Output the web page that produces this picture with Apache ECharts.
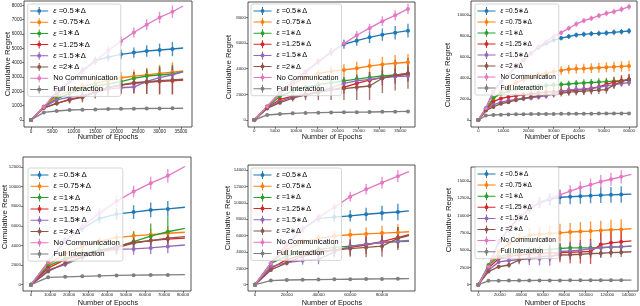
<!DOCTYPE html>
<html><head><meta charset="utf-8">
<script src="https://cdn.jsdelivr.net/npm/echarts@6/dist/echarts.min.js"></script>
<style>html,body{margin:0;padding:0;background:#fff}#c{width:640px;height:306px}</style>
</head><body><div id="c"></div><script>
// ---------- names ----------
const NAMES = ['ε =0.5∗Δ','ε =0.75∗Δ','ε =1∗Δ','ε =1.25∗Δ','ε =1.5∗Δ','ε =2∗Δ','No Communication','Full Interaction'];

// ---------- chart 1 (top-left) ----------
const x1 = [0,3000,6000,9000,12000,15000,18000,21000,24000,27000,30000,33000,35500];
const r1_05  = [0,900,1800,2700,3450,4150,4380,4580,4700,4810,4880,4950,5020];
const r1_075 = [0,950,1650,2050,2350,2550,2750,2950,3050,3150,3250,3330,3420];
const r1_1   = [0,930,1470,1860,2140,2370,2510,2670,2900,3070,3140,3210,3370];
const r1_125 = [0,850,1160,1440,1630,1980,2280,2440,2560,2630,2700,2740,2790];
const r1_15  = [0,900,1400,1600,1700,1900,2150,2250,2300,2700,2950,3150,3350];
const r1_2   = [0,850,1160,1400,1580,1950,2250,2440,2600,2670,2740,2790,2840];
const r1_nc  = [0,900,2000,2700,3400,4100,4850,5500,6100,6650,7150,7550,7950];
const r1_fi  = [0,530,630,700,720,740,770,780,790,800,810,815,820];
const e1_05  = [0,60,120,180,220,260,300,330,360,400,450,500,0];
const e1_075 = [0,60,120,180,250,300,350,400,450,500,600,700,0];
const e1_1   = [0,60,150,200,250,300,350,400,450,500,600,650,0];
const e1_125 = [0,60,150,250,300,400,500,600,700,800,900,950,0];
const e1_15  = [0,60,120,150,200,250,300,350,350,350,400,400,0];
const e1_2   = [0,60,150,250,350,450,550,650,750,850,950,1000,0];
const e1_nc  = [0,60,120,180,220,260,300,320,350,370,400,430,0];
const e1_fi  = [0,30,40,50,60,60,70,70,80,80,90,90,0];
const xt1 = [0,5000,10000,15000,20000,25000,30000,35000];
const yt1 = [0,1000,2000,3000,4000,5000,6000,7000,8000];

// ---------- chart 2 (top-middle) ----------
const x2 = [0,3070,6140,9210,12280,15350,18420,21490,24560,27630,30700,33770,36840];
const r2_05  = [0,1050,2100,2950,3750,4550,5300,5900,6180,6440,6650,6800,6960];
const r2_075 = [0,1050,2050,2800,3300,3600,3800,3900,4030,4200,4330,4420,4500];
const r2_1   = [0,1000,1850,2250,2550,2750,2900,3050,3190,3320,3430,3510,3580];
const r2_125 = [0,950,1600,1850,2000,2200,2350,2550,2850,3100,3300,3430,3580];
const r2_15  = [0,950,1450,1800,1950,2200,2500,2850,3050,3170,3300,3380,3430];
const r2_2   = [0,900,1350,1700,1950,2150,2350,2450,2550,2650,3250,3500,3640];
const r2_nc  = [0,1050,2100,2950,3750,4550,5300,5950,6600,7150,7700,8150,8650];
const r2_fi  = [0,390,470,520,550,570,590,600,610,620,640,650,670];
const e2_05  = [0,50,100,150,200,250,300,350,400,450,480,520,540];
const e2_075 = [0,50,100,150,250,300,400,450,500,550,600,650,650];
const e2_1   = [0,50,100,150,200,250,300,350,350,400,400,400,400];
const e2_125 = [0,50,100,200,300,400,500,500,550,600,600,600,600];
const e2_15  = [0,50,100,150,200,250,300,350,400,400,400,400,400];
const e2_2   = [0,50,150,250,400,600,800,900,1000,1100,1150,1200,1200];
const e2_nc  = [0,50,100,150,200,250,300,300,330,350,380,400,400];
const e2_fi  = [0,30,40,50,50,60,60,60,70,70,70,70,70];
const xt2 = [0,5000,10000,15000,20000,25000,30000,35000];
const yt2 = [0,2000,4000,6000,8000];

// ---------- chart 3 (top-right) ----------
const x3 = [0,3000,6000,9000,12000,15000,18000,21000,24000,27000,30000,33000,36000,39000,42000,45000,48000,51000,54000,57000,60000];
const r3_05  = [0,1110,2700,3650,4290,5080,5710,6350,6900,7300,7600,7800,7950,8100,8160,8220,8250,8290,8350,8410,8480];
const r3_075 = [0,1000,2000,2700,3200,3550,3850,4100,4300,4450,4600,4720,4830,4870,4900,4940,4980,5020,5060,5100,5140];
const r3_1   = [0,1000,2100,2500,2750,2950,3050,3150,3220,3280,3330,3370,3430,3490,3530,3570,3610,3650,3700,3750,3810];
const r3_125 = [0,950,1750,2050,2200,2300,2400,2500,2580,2650,2700,2750,2800,2850,2900,3000,3150,3400,3600,3750,3850];
const r3_15  = [0,950,1450,1700,1850,1950,2050,2100,2200,2300,2500,2700,2850,2920,2950,3030,3110,3250,3350,3480,3560];
const r3_2   = [0,900,1250,1550,1700,1900,2050,2200,2300,2400,2450,2550,2650,2700,2750,2800,2850,2900,3350,3650,3870];
const r3_nc  = [0,1110,2700,3650,4290,5080,5710,6350,6980,7460,7940,8320,8730,9140,9460,9680,9940,10160,10320,10540,10790];
const r3_fi  = [0,420,480,510,530,540,550,560,570,575,580,585,590,595,600,605,610,615,620,625,630];
const e3_05  = [0,50,80,100,120,140,160,180,200,200,210,220,230,240,250,250,260,260,270,270,280];
const e3_075 = [0,50,100,150,200,250,300,320,340,360,380,400,420,440,450,460,470,480,490,500,500];
const e3_1   = [0,50,100,150,180,200,220,240,260,280,300,300,320,330,340,350,360,370,380,390,400];
const e3_125 = [0,50,100,150,200,250,300,300,320,340,360,380,400,420,440,460,480,500,520,540,560];
const e3_15  = [0,50,100,150,180,200,220,240,260,280,300,300,300,300,300,300,300,300,300,300,300];
const e3_2   = [0,50,100,150,180,200,220,240,260,280,300,320,340,350,360,370,380,390,400,400,400];
const e3_nc  = [0,50,80,100,120,140,160,180,200,210,220,230,240,250,250,260,260,270,270,280,280];
const e3_fi  = [0,20,25,30,30,35,35,40,40,40,40,45,45,45,45,50,50,50,50,50,50];
const xt3 = [0,10000,20000,30000,40000,50000,60000];
const yt3 = [0,2000,4000,6000,8000,10000];

// ---------- chart 4 (bottom-left) ----------
const x4 = [0,9000,18000,27000,36000,45000,54000,63000,72000,81000];
const r4_05  = [0,2300,4500,5750,6750,7200,7400,7620,7730,7900];
const r4_075 = [0,2000,3200,3900,4450,4800,4980,5100,5250,5350];
const r4_1   = [0,1900,2700,3200,3550,3850,4400,4950,5400,5750];
const r4_125 = [0,1700,2550,3050,3400,3850,4300,4500,4650,4750];
const r4_15  = [0,1500,2050,2800,3350,3600,3650,3750,3900,4050];
const r4_2   = [0,1350,2200,2850,3400,3750,4250,4500,4750,4900];
const r4_nc  = [0,2300,4500,5900,7300,8500,9500,10350,11100,12050];
const r4_fi  = [0,750,800,850,900,950,970,985,1000,1020];
const e4_05  = [0,200,300,400,500,600,700,750,800,0];
const e4_075 = [0,200,300,350,400,450,500,600,700,0];
const e4_1   = [0,200,300,400,600,800,1000,1300,1500,0];
const e4_125 = [0,150,250,300,350,400,450,500,500,0];
const e4_15  = [0,150,250,300,400,500,600,650,700,0];
const e4_2   = [0,150,250,350,400,450,500,500,500,0];
const e4_nc  = [0,200,300,400,500,550,600,650,700,0];
const e4_fi  = [0,50,60,70,70,80,80,80,80,0];
const xt4 = [0,10000,20000,30000,40000,50000,60000,70000,80000];
const yt4 = [0,2000,4000,6000,8000,10000,12000];

// ---------- chart 5 (bottom-middle) ----------
const x5 = [0,10000,20000,30000,40000,50000,60000,70000,80000,90000,97000];
const r5_05  = [0,2600,4900,6800,8100,8250,8400,8600,8750,8870,9020];
const r5_075 = [0,2600,4300,5200,5650,5950,6100,6200,6300,6380,6460];
const r5_1   = [0,2600,3500,3950,4300,4550,4700,4950,5150,5250,5300];
const r5_125 = [0,2000,3050,3650,4050,4250,4550,4850,5250,5750,6100];
const r5_15  = [0,2200,2700,2950,3100,4000,4650,4950,5150,5300,5400];
const r5_2   = [0,1800,2650,3450,3850,4250,4400,4550,4700,5650,6000];
const r5_nc  = [0,2600,4900,6800,8200,9450,10750,11650,12450,13250,13800];
const r5_fi  = [0,500,570,600,620,650,670,690,710,730,740];
const e5_05  = [0,200,300,400,500,600,700,800,900,1000,0];
const e5_075 = [0,200,300,400,500,600,700,800,900,1000,0];
const e5_1   = [0,200,300,300,400,400,500,500,600,600,0];
const e5_125 = [0,200,300,400,600,800,1000,1100,1200,1300,0];
const e5_15  = [0,200,300,500,600,700,800,800,800,800,0];
const e5_2   = [0,200,300,400,600,800,1000,1200,1300,1400,0];
const e5_nc  = [0,200,300,400,500,550,600,650,700,750,0];
const e5_fi  = [0,50,60,60,70,70,80,80,80,80,0];
const xt5 = [0,20000,40000,60000,80000];
const yt5 = [0,2000,4000,6000,8000,10000,12000,14000];

// ---------- chart 6 (bottom-right) ----------
const x6 = [0,9500,19000,28500,38000,47500,57000,66500,76000,85500,95000,104500,114000,123500,133000,142500];
const r6_05  = [0,2600,6200,8100,9750,10900,11850,12350,12650,12720,12800,12880,12950,13000,13050,13100];
const r6_075 = [0,2600,4750,5950,6650,7150,7300,7400,7500,7620,7700,7760,7850,7950,8000,8100];
const r6_1   = [0,2850,4050,4380,4650,4860,5000,5100,5240,5330,5330,5330,5380,5430,5480,5570];
const r6_125 = [0,2400,3800,4100,4300,4450,4550,4600,4650,4700,4750,4800,5800,6050,6200,6330];
const r6_15  = [0,2100,3300,3500,3650,3750,3800,3850,4800,4900,5000,5200,5330,5450,5500,5570];
const r6_2   = [0,1900,2600,2850,3600,3850,4050,4150,4290,4330,4400,4500,4550,4650,4700,4760];
const r6_nc  = [0,2600,6200,8100,9800,10950,11900,12500,13000,13550,14050,14450,14900,15250,15600,15950];
const r6_fi  = [0,560,580,590,600,610,615,620,625,630,635,640,645,650,660,670];
const e6_05  = [0,200,400,500,600,700,800,900,1000,1100,1100,1100,1150,1150,1200,0];
const e6_075 = [0,200,400,600,800,1000,1100,1200,1300,1300,1350,1400,1400,1430,1450,0];
const e6_1   = [0,200,300,400,500,600,600,650,700,700,700,700,700,700,700,0];
const e6_125 = [0,200,300,400,600,800,1000,1200,1400,1600,1700,1800,1800,1800,1800,0];
const e6_15  = [0,200,300,500,700,900,1000,1100,1200,1200,1200,1200,1200,1200,1200,0];
const e6_2   = [0,200,300,400,500,550,600,650,700,700,700,700,700,700,700,0];
const e6_nc  = [0,200,400,500,600,650,700,750,800,850,900,900,950,950,950,0];
const e6_fi  = [0,50,60,60,60,70,70,70,70,70,70,70,70,70,70,0];
const xt6 = [0,20000,40000,60000,80000,100000,120000,140000];
const yt6 = [0,2500,5000,7500,10000,12500,15000];

// ---------- styling / layout ----------
const COLORS = ['#1f77b4','#ff7f0e','#2ca02c','#d62728','#9467bd','#8c564b','#e377c2','#7f7f7f'];
const FONT = '"Liberation Sans", Arial, sans-serif';
const ICON = 'path://M0,3.5H18V4.5H0Z M8.5,0H9.5V8H8.5Z M11,4A2,2 0 1 1 7,4A2,2 0 1 1 11,4Z';

const charts = [
  {x:x1, ys:[r1_05,r1_075,r1_1,r1_125,r1_15,r1_2,r1_nc,r1_fi], es:[e1_05,e1_075,e1_1,e1_125,e1_15,e1_2,e1_nc,e1_fi], xt:xt1, yt:yt1, noLast:true,
   box:[24,1,192,127], xa:[0,31,35000,181], ya:[0,120,8000,5.3], tf:4.6, leg:{l:27.7,t:4,fs:7.6,pitch:11.2}, yn:[7.5,64], xn:[108,137]},
  {x:x2, ys:[r2_05,r2_075,r2_1,r2_125,r2_15,r2_2,r2_nc,r2_fi], es:[e2_05,e2_075,e2_1,e2_125,e2_15,e2_2,e2_nc,e2_fi], xt:xt2, yt:yt2, noLast:false,
   box:[248,2,415,127], xa:[0,254.3,35000,400.3], ya:[0,120,8000,17.3], tf:4.4, leg:{l:251,t:4,fs:7.3,pitch:11.1}, yn:[229,67], xn:[332,137]},
  {x:x3, ys:[r3_05,r3_075,r3_1,r3_125,r3_15,r3_2,r3_nc,r3_fi], es:[e3_05,e3_075,e3_1,e3_125,e3_15,e3_2,e3_nc,e3_fi], xt:xt3, yt:yt3, noLast:false,
   box:[471,1,637,127], xa:[0,478.3,60000,629], ya:[0,120,10000,15], tf:4.2, leg:{l:475,t:4,fs:6.5,pitch:11}, yn:[448,75], xn:[555,137]},
  {x:x4, ys:[r4_05,r4_075,r4_1,r4_125,r4_15,r4_2,r4_nc,r4_fi], es:[e4_05,e4_075,e4_1,e4_125,e4_15,e4_2,e4_nc,e4_fi], xt:xt4, yt:yt4, noLast:true,
   box:[23,157,191,291], xa:[0,31,80000,183], ya:[0,284.7,12000,167], tf:4.4, leg:{l:28,t:168,fs:7.8,pitch:11.3}, yn:[4.5,217], xn:[108,303]},
  {x:x5, ys:[r5_05,r5_075,r5_1,r5_125,r5_15,r5_2,r5_nc,r5_fi], es:[e5_05,e5_075,e5_1,e5_125,e5_15,e5_2,e5_nc,e5_fi], xt:xt5, yt:yt5, noLast:true,
   box:[248,165,415,291], xa:[0,255,80000,382], ya:[0,284.7,14000,170], tf:4.4, leg:{l:251,t:168,fs:7.3,pitch:11.2}, yn:[228,218], xn:[332,303]},
  {x:x6, ys:[r6_05,r6_075,r6_1,r6_125,r6_15,r6_2,r6_nc,r6_fi], es:[e6_05,e6_075,e6_1,e6_125,e6_15,e6_2,e6_nc,e6_fi], xt:xt6, yt:yt6, noLast:true,
   box:[471,167,638,291], xa:[0,478.3,140000,628.7], ya:[0,284.7,15000,181], tf:4.2, leg:{l:475,t:167,fs:6.5,pitch:11.1}, yn:[449,220], xn:[555,303]}
];

function ext(v0, p0, v1, p1, lo, hi) {
  const s = (p1 - p0) / (v1 - v0);
  return [v0 + (lo - p0) / s, v0 + (hi - p0) / s];
}

const grid = [], xAxis = [], yAxis = [], series = [], legend = [], graphic = [];
charts.forEach((c, ci) => {
  const [L, T, R, B] = c.box;
  grid.push({left:L, top:T, width:R-L, height:B-T, show:true, borderColor:'#262626', borderWidth:0.8, containLabel:false, outerBoundsMode:'none'});
  const xr = ext(c.xa[0], c.xa[1], c.xa[2], c.xa[3], L, R);
  const yr = ext(c.ya[0], c.ya[1], c.ya[2], c.ya[3], B, T);
  const tickStyle = {color:'#262626', width:0.6};
  xAxis.push({type:'value', gridIndex:ci, min:xr[0], max:xr[1], axisLine:{show:false, onZero:false}, splitLine:{show:false},
    axisTick:{show:true, length:2, customValues:c.xt, lineStyle:tickStyle},
    axisLabel:{customValues:c.xt, fontSize:c.tf, color:'#222', margin:2, fontFamily:FONT, formatter:v=>String(v)}});
  yAxis.push({type:'value', gridIndex:ci, min:yr[0], max:yr[1], axisLine:{show:false, onZero:false}, splitLine:{show:false},
    axisTick:{show:true, length:2, customValues:c.yt, lineStyle:tickStyle},
    axisLabel:{customValues:c.yt, fontSize:c.tf, color:'#222', margin:2, fontFamily:FONT, formatter:v=>String(v)}});
  for (let k = 0; k < 8; k++) {
    const color = COLORS[k];
    const ys = c.ys[k], es = c.es[k];
    const errData = c.x.map((x, i) => [x, ys[i], es[i]]).filter(d => d[2] > 0);
    series.push({type:'custom', name:'err'+ci+'_'+k, xAxisIndex:ci, yAxisIndex:ci, data:errData, encode:{x:0, y:1}, clip:true, silent:true, z:2,
      renderItem:(params, api) => {
        const x = api.value(0), y = api.value(1), e = api.value(2);
        const p1 = api.coord([x, y - e]), p2 = api.coord([x, y + e]);
        return {type:'line', shape:{x1:p1[0], y1:p1[1], x2:p2[0], y2:p2[1]}, style:{stroke:color, lineWidth:1.4, opacity:0.8}};
      }});
    const last = c.x.length - 1;
    const lineData = c.x.map((x, i) => (c.noLast && i === last) ? {value:[x, ys[i]], symbol:'none'} : [x, ys[i]]);
    series.push({type:'line', name:NAMES[k], xAxisIndex:ci, yAxisIndex:ci, data:lineData, symbol:'circle', symbolSize:4,
      showSymbol:true, lineStyle:{color:color, width:1.35}, itemStyle:{color:color, borderWidth:0}, color:color, z:2, silent:true});
  }
  const fs = c.leg.fs;
  legend.push({show:true, orient:'vertical', left:c.leg.l, top:c.leg.t, padding:[3,3,3,2.5], itemGap:c.leg.pitch - 8,
    itemWidth:18, itemHeight:8, icon:ICON, data:NAMES, selectedMode:false,
    backgroundColor:'rgba(255,255,255,0.8)', borderColor:'#cccccc', borderWidth:0.8, borderRadius:2,
    itemStyle:{borderWidth:0},
    textStyle:{fontSize:fs, fontFamily:FONT, color:'#000', lineHeight:8,
      rich:{i:{fontStyle:'italic', fontSize:fs, fontFamily:FONT, color:'#000', lineHeight:8}}},
    formatter: name => name.charAt(0) === 'ε' ? '{i|ε}' + name.slice(1) : name,
    z:5});
  graphic.push({type:'text', x:c.yn[0], y:c.yn[1], rotation:Math.PI/2, silent:true,
    style:{text:'Cumulative Regret', fontSize:7.8, fontFamily:FONT, fill:'#111', align:'center', verticalAlign:'middle'}});
  graphic.push({type:'text', x:c.xn[0], y:c.xn[1], silent:true,
    style:{text:'Number of Epochs', fontSize:7.3, fontFamily:FONT, fill:'#111', align:'center', verticalAlign:'middle'}});
});

const chart = echarts.init(document.getElementById('c'), null, {renderer:'canvas'});
chart.setOption({animation:false, backgroundColor:'#fff', grid, xAxis, yAxis, series, legend, graphic});
</script></body></html>
